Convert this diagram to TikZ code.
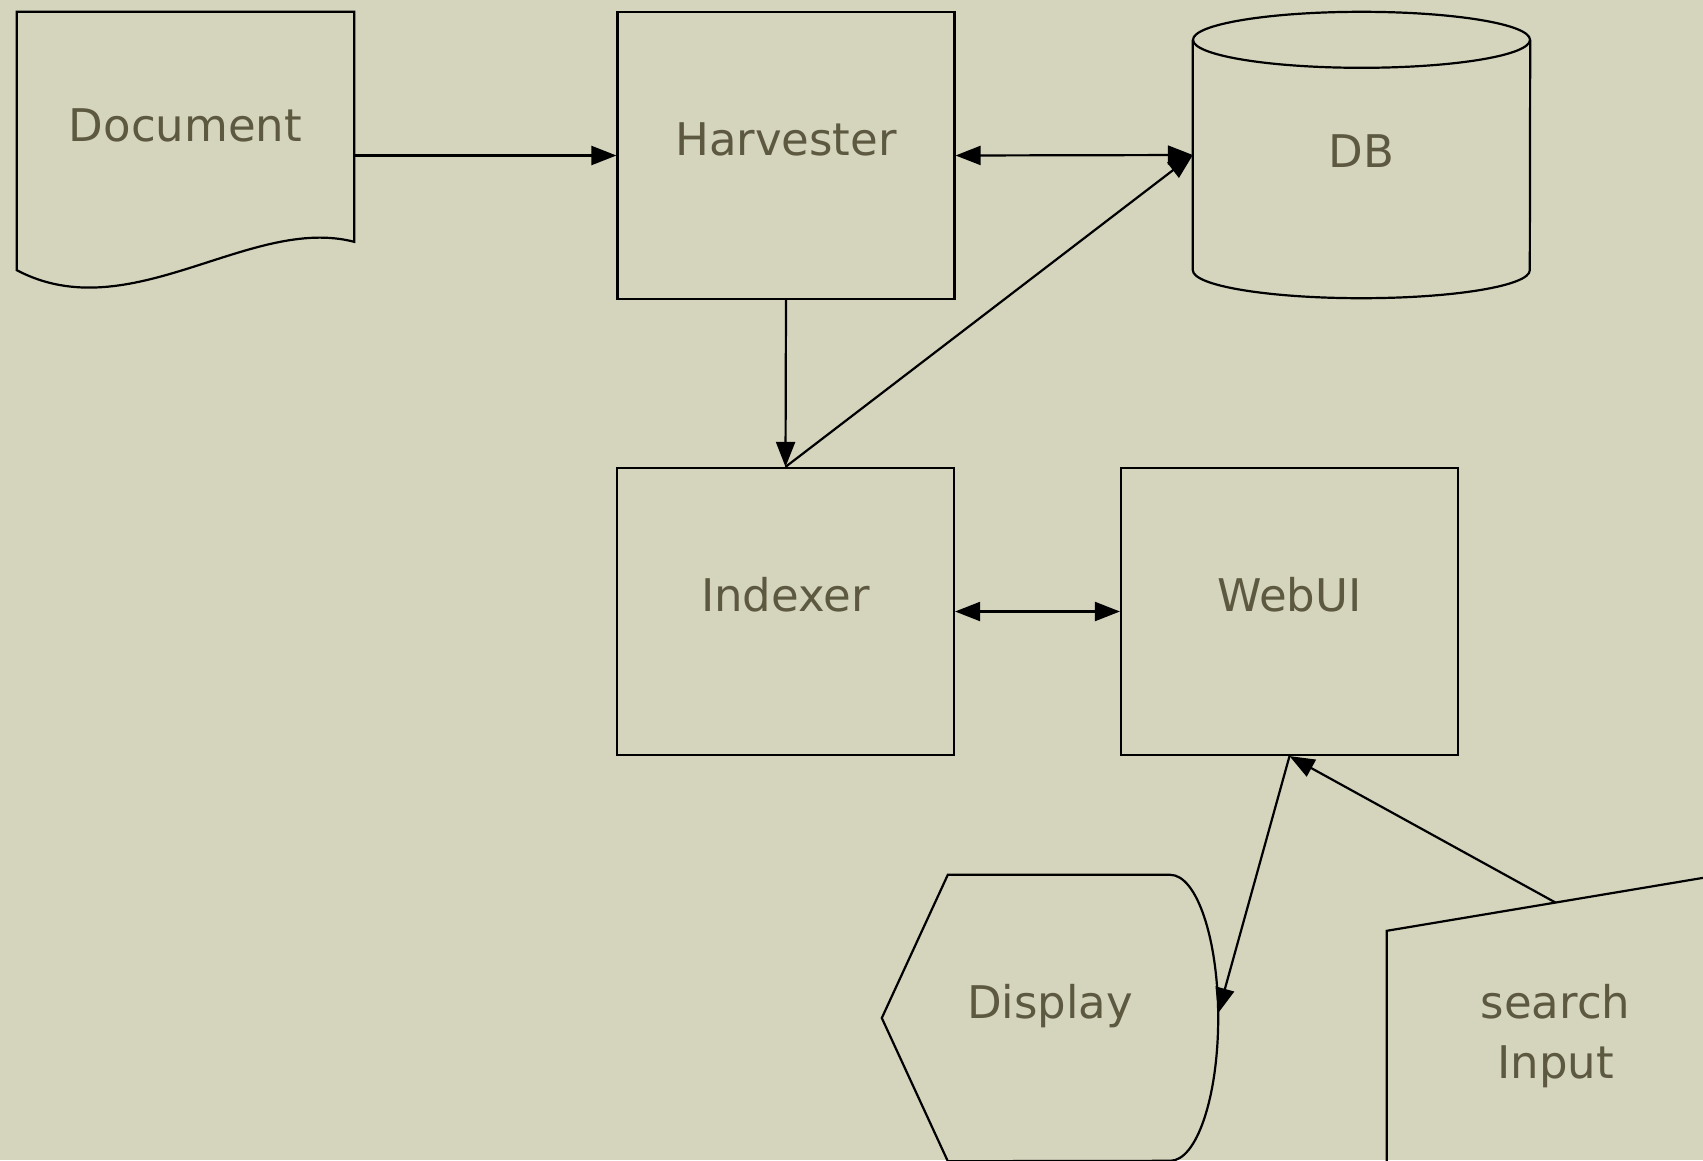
\documentclass[tikz,border=0pt]{standalone}
\usepackage{fontspec}
\setmainfont{DejaVu Sans}
\usetikzlibrary{arrows.meta,calc}
\definecolor{paper}{RGB}{213,212,189}
\definecolor{ink}{RGB}{92,89,64}

\begin{document}
\begin{tikzpicture}[x=1pt,y=-1pt,
  >={Triangle[length=25pt,width=19pt]},
  every node/.style={font=\fontsize{45}{60}\selectfont, text=ink, inner sep=0pt},
  outline/.style={draw=black, line width=2.2pt},
  frame/.style={rectangle, minimum width=337pt, text height=20pt, text depth=20pt},
  box/.style={frame, outline, minimum height=287pt},
  link/.style={draw=black, line width=2.2pt, ->},
  biarrow/.style={draw=black, line width=2.2pt, <->},
]
% paper background
\fill[paper] (0,0) rectangle (1703,1160);
\clip (0,0) rectangle (1703,1160);

% components
\node[frame, minimum height=258pt] (doc) at (185.5,141) {Document};
\node[box] (harv) at (786,155.5) {Harvester};
\node[frame, minimum height=286pt, text height=32pt, text depth=8pt] (db) at (1361.5,155) {DB};
\node[box] (idx) at (785.5,611.5) {Indexer};
\node[box] (web) at (1289.5,611.5) {WebUI};
\node[frame, minimum width=336pt, minimum height=286pt] (disp) at (1050,1018) {Display};
\node[frame, minimum height=287pt] (srch) at (1555.5,1018)
  {\begin{tabular}[t]{@{}c@{}}search\\Input\end{tabular}};

% document sheet with wavy lower edge
\draw[outline] (doc.north west) -- (doc.north east) -- ($(doc.north east)+(0,230)$)
  .. controls ($(doc.north east)+(-104,203)$) and ($(doc.north west)+(113,318)$) .. (doc.south west)
  -- cycle;

% database cylinder
\draw[outline] ($(db.north)+(0,28)$) ellipse [x radius=168.5pt, y radius=28pt];
\draw[outline] ($(db.north west)+(0,28)$) -- ($(db.south west)+(0,-28)$)
  arc[start angle=180, end angle=360, x radius=168.5pt, y radius=28pt]
  -- ($(db.north east)+(0,28)$);

% display symbol
\draw[outline] ($(disp.north west)+(66,0)$) -- ($(disp.north east)+(-48,0)$)
  arc[start angle=90, end angle=-90, x radius=48pt, y radius=143pt]
  -- ($(disp.south west)+(66,0)$) -- (disp.west) -- cycle;

% manual input symbol
\draw[outline] (srch.south west) -- ($(srch.north west)+(0,56.5)$) -- (srch.north east) -- (srch.south east);
\coordinate (srchtop) at ($(srch.north)+(0,28.25)$);

% connectors
\draw[link] (doc.east |- harv.west) -- (harv.west);
\draw[biarrow] (harv.east) -- (db.west);
\draw[link] (harv.south) -- (idx.north);
\draw[link] (idx.north) -- (db.west);
\draw[biarrow] (idx.east) -- (web.west);
\draw[link] (srchtop) -- (web.south);
\draw[link] (web.south) -- ($(disp.east)+(0,-5)$);
\end{tikzpicture}
\end{document}
